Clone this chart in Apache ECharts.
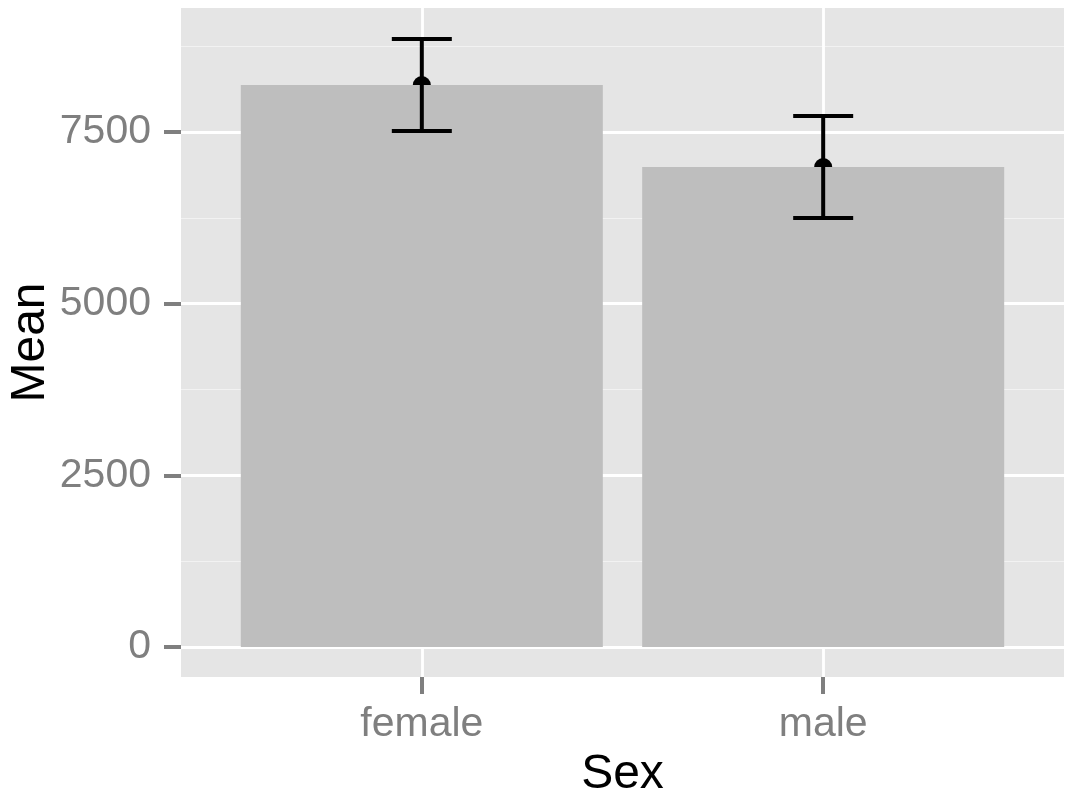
<!DOCTYPE html>
<html><head><meta charset="utf-8">
<script src="https://cdn.jsdelivr.net/npm/echarts@6/dist/echarts.min.js"></script>
<style>html,body{margin:0;padding:0;background:#fff}#c{width:1078px;height:797px}</style>
</head><body><div id="c"></div>
<script>
const categories = ['female', 'male'];
const means = [8184, 6990];
const errLower = [7514, 6248];
const errUpper = [8854, 7733];
const yTicks = [0, 2500, 5000, 7500];
const yMinor = [1250, 3750, 6250, 8750];

const xPos = categories.map((c, i) => i + 1);
const barData = means.map((m, i) => [xPos[i], m]);
const errData = means.map((m, i) => [xPos[i], errLower[i], errUpper[i]]);
const font = 'Liberation Sans, Arial, Helvetica, sans-serif';

const chart = echarts.init(document.getElementById('c'));
chart.setOption({
  animation: false,
  backgroundColor: '#fff',
  grid: { left: 181, right: 14, top: 8, bottom: 120, show: true, backgroundColor: '#e5e5e5', borderWidth: 0, containLabel: false, outerBoundsMode: 'none' },
  xAxis: {
    type: 'value', min: 0.4, max: 2.6,
    name: 'Sex', nameLocation: 'middle', nameGap: 74, nameMoveOverlap: false,
    nameTextStyle: { color: '#000', fontSize: 48, fontFamily: font },
    axisLine: { show: false, onZero: false },
    axisTick: { show: true, customValues: xPos, length: 17, lineStyle: { color: '#7f7f7f', width: 4 } },
    axisLabel: { customValues: xPos, color: '#7f7f7f', fontSize: 41, fontFamily: font, margin: 27,
      formatter: v => categories[Math.round(v) - 1] || '' },
    splitLine: { show: false }
  },
  yAxis: {
    type: 'value', min: -437, max: 9306,
    name: 'Mean', nameLocation: 'middle', nameGap: 126, nameRotate: 90, nameMoveOverlap: false,
    nameTextStyle: { color: '#000', fontSize: 48, fontFamily: font },
    axisLine: { show: false, onZero: false },
    axisTick: { show: true, customValues: yTicks, length: 17, lineStyle: { color: '#7f7f7f', width: 4 } },
    axisLabel: { customValues: yTicks, color: '#7f7f7f', fontSize: 41, fontFamily: font, margin: 30,
      formatter: v => String(v) },
    splitLine: { show: false }
  },
  series: [
    {
      type: 'line', data: [], z: 0, silent: true,
      markLine: {
        z: 0, silent: true, symbol: 'none', label: { show: false }, animation: false,
        data: [
          ...yMinor.map(v => ({ yAxis: v, lineStyle: { color: '#f2f2f2', width: 1.2, type: 'solid' } })),
          ...yTicks.map(v => ({ yAxis: v, lineStyle: { color: '#ffffff', width: 2.8, type: 'solid' } })),
          ...xPos.map(v => ({ xAxis: v, lineStyle: { color: '#ffffff', width: 2.8, type: 'solid' } }))
        ]
      }
    },
    {
      type: 'scatter', data: barData, z: 1, symbol: 'circle', symbolSize: 18,
      itemStyle: { color: '#000', opacity: 1 }
    },
    {
      type: 'bar', data: barData, z: 2, barWidth: 362,
      itemStyle: { color: '#bebebe' }
    },
    {
      type: 'custom', z: 3, data: errData,
      renderItem: (params, api) => {
        const x = api.value(0);
        const lo = api.coord([x, api.value(1)]);
        const hi = api.coord([x, api.value(2)]);
        const hw = 30;
        const st = { stroke: '#000', lineWidth: 4 };
        return { type: 'group', children: [
          { type: 'line', shape: { x1: lo[0], y1: lo[1], x2: hi[0], y2: hi[1] }, style: st },
          { type: 'line', shape: { x1: hi[0] - hw, y1: hi[1], x2: hi[0] + hw, y2: hi[1] }, style: st },
          { type: 'line', shape: { x1: lo[0] - hw, y1: lo[1], x2: lo[0] + hw, y2: lo[1] }, style: st }
        ]};
      }
    }
  ]
});
</script></body></html>
